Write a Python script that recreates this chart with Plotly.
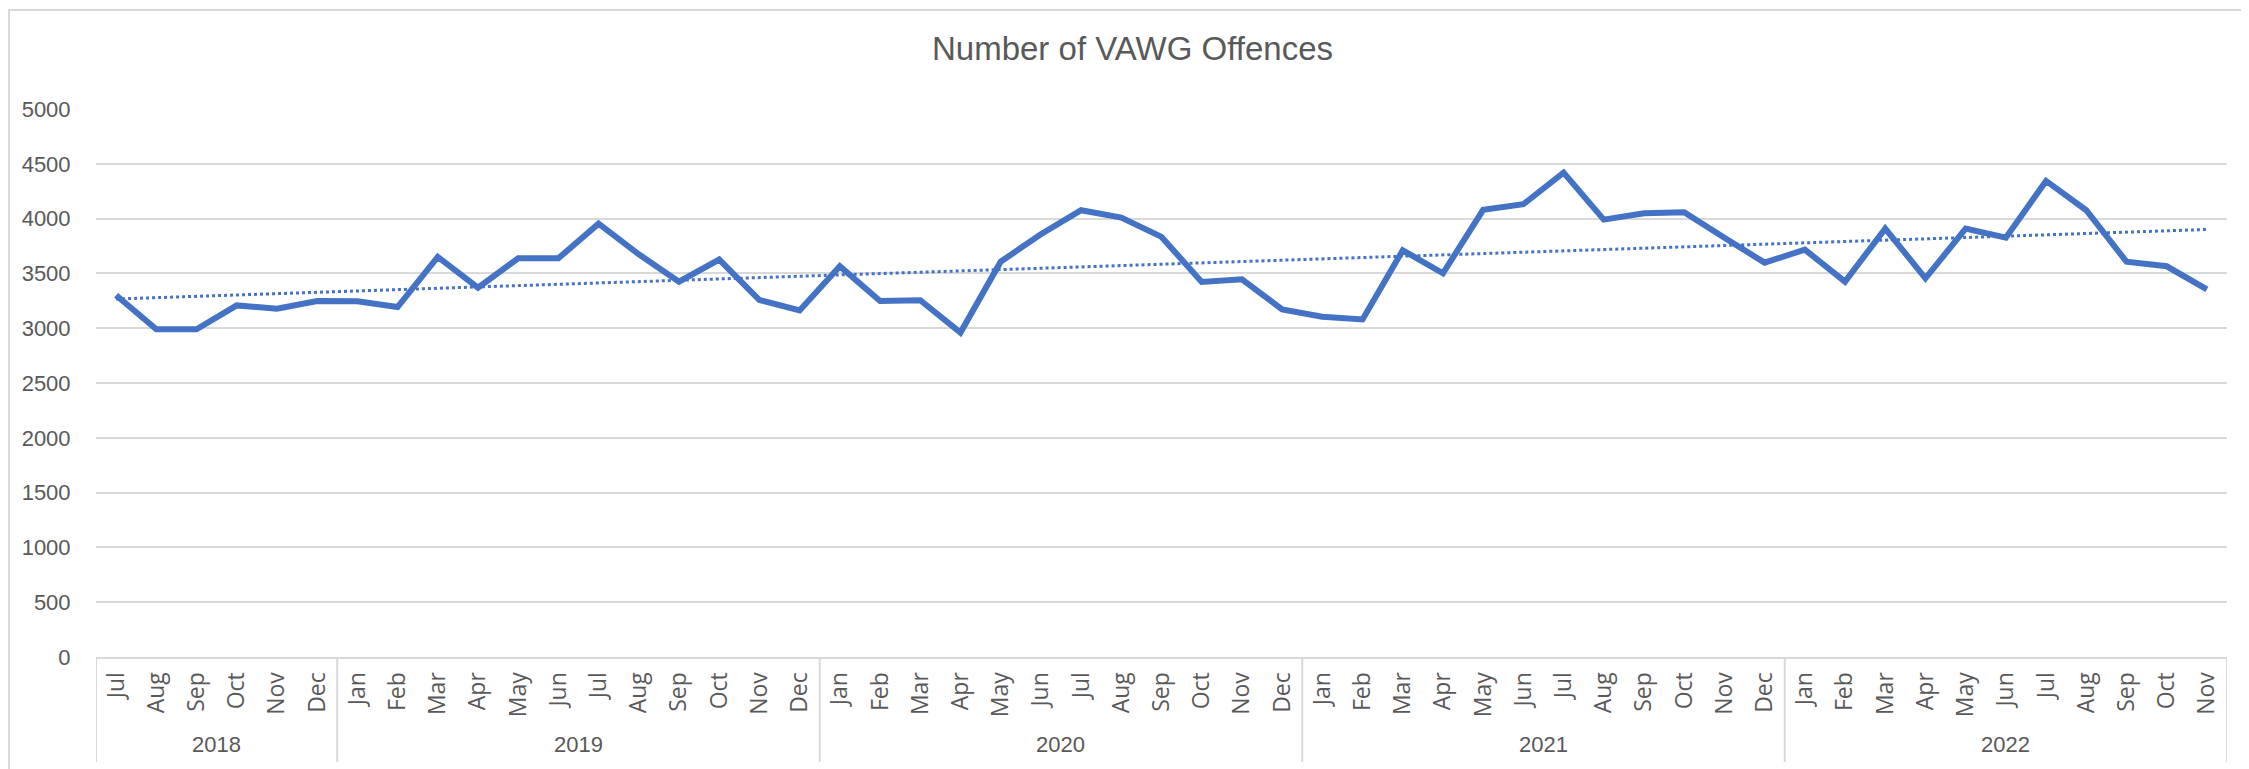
import numpy as np
import plotly.graph_objects as go

# ---- data ----
years = ["2018"] * 6 + ["2019"] * 12 + ["2020"] * 12 + ["2021"] * 12 + ["2022"] * 11
months = (["Jul", "Aug", "Sep", "Oct", "Nov", "Dec"]
          + ["Jan", "Feb", "Mar", "Apr", "May", "Jun", "Jul", "Aug", "Sep", "Oct", "Nov", "Dec"] * 3
          + ["Jan", "Feb", "Mar", "Apr", "May", "Jun", "Jul", "Aug", "Sep", "Oct", "Nov"])
offences = [3300, 2990, 2990, 3208, 3178, 3248,
            3245, 3193, 3650, 3370, 3638, 3638, 3954, 3674, 3425, 3626, 3257, 3162,
            3565, 3248, 3255, 2960, 3607, 3857, 4076, 4009, 3833, 3422, 3446, 3172,
            3105, 3080, 3711, 3501, 4080, 4131, 4420, 3991, 4049, 4058, 3826, 3598,
            3717, 3425, 3909, 3455, 3909, 3826, 4344, 4076, 3607, 3565, 3354]
y_ticks = list(range(0, 5001, 500))

idx = np.arange(len(offences))
# linear trendline (like Excel's)
slope, intercept = np.polyfit(idx, offences, 1)
trend = slope * idx + intercept

W, H = 2249, 769
ML, MR, MT, MB = 88, 30, 101, 120
pw = W - ML - MR
ph = H - MT - MB
TXT = "#595959"
GRID = "#d9d9d9"
BLUE = "#4472C4"
FONT = "Liberation Sans, Arial, sans-serif"
MFONT = "Open Sans, Noto Sans, sans-serif"

fig = go.Figure()
fig.add_trace(go.Scatter(x=idx, y=offences, mode="lines",
                         line=dict(color=BLUE, width=6), name="Offences",
                         showlegend=False))
fig.add_trace(go.Scatter(x=idx, y=trend, mode="lines",
                         line=dict(color=BLUE, width=3, dash="dot"), name="Trend",
                         showlegend=False))

# year groups: labels and dividers derived from the years list
groups = []
for i, yv in enumerate(years):
    if not groups or groups[-1][0] != yv:
        groups.append([yv, i, i])
    else:
        groups[-1][2] = i

div_len = 105 / ph
for yv, a, b in groups:
    fig.add_annotation(x=(a + b) / 2, y=-87 / ph, xref="x", yref="paper",
                       text=yv, showarrow=False, yanchor="middle",
                       font=dict(family=FONT, size=22, color=TXT))
    fig.add_shape(type="line", xref="x", yref="paper", x0=a - 0.5, x1=a - 0.5,
                  y0=0, y1=-div_len, line=dict(color=GRID, width=2))
fig.add_shape(type="line", xref="x", yref="paper",
              x0=groups[-1][2] + 0.5, x1=groups[-1][2] + 0.5,
              y0=0, y1=-div_len, line=dict(color=GRID, width=2))

# outer chart border
fig.add_shape(type="rect", xref="paper", yref="paper",
              x0=-(ML - 1) / pw, x1=1 + (MR - 3) / pw,
              y0=-(MB - 2) / ph, y1=1 + (MT - 2) / ph,
              line=dict(color=GRID, width=2), layer="below")

fig.update_layout(
    width=W, height=H,
    margin=dict(l=ML, r=MR, t=MT, b=MB),
    paper_bgcolor="white", plot_bgcolor="white",
    title=dict(text="Number of VAWG Offences", x=0.5, xanchor="center",
               y=1 - 40 / H, yanchor="middle",
               font=dict(family=FONT, size=33, color=TXT)),
    font=dict(family=FONT, color=TXT),
    xaxis=dict(range=[-0.5, len(offences) - 0.5], tickvals=idx, ticktext=months,
               showgrid=False, showline=True, zeroline=False,
               linecolor=GRID, linewidth=2, tickangle=-90,
               tickfont=dict(family=MFONT, size=23, color=TXT),
               ticks="outside", ticklen=4, tickcolor="rgba(0,0,0,0)"),
    yaxis=dict(range=[0, 5000], tickvals=y_ticks, showgrid=True,
               gridcolor=GRID, gridwidth=2, zeroline=False, showline=False,
               tickfont=dict(family=FONT, size=22, color=TXT),
               ticks="outside", ticklen=20, tickcolor="rgba(0,0,0,0)"),
)

fig.write_html("out.html")
